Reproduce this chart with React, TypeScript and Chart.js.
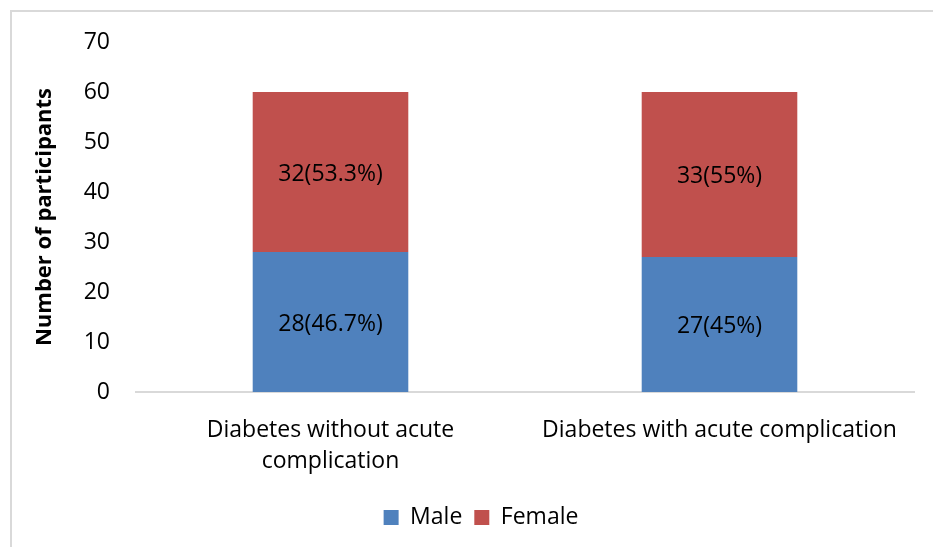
import React, { useEffect, useRef } from "react";
import { Chart, registerables } from "chart.js";

Chart.register(...registerables);

const categories: (string | string[])[] = [
  ["Diabetes without acute", "complication"],
  "Diabetes with acute complication",
];
const seriesNames = ["Male", "Female"];
const maleCounts = [28, 27];
const femaleCounts = [32, 33];
const maleLabels = ["28(46.7%)", "27(45%)"];
const femaleLabels = ["32(53.3%)", "33(55%)"];
const yMin = 0;
const yMax = 70;
const yStep = 10;
const yTitle = "Number of participants";

const FONT = "'Open Sans'";

export default function App() {
  const ref = useRef<HTMLCanvasElement | null>(null);

  useEffect(() => {
    document.body.style.margin = "0";
    const canvas = ref.current;
    if (!canvas) return;

    const frame = {
      id: "frame",
      beforeDraw(chart: any) {
        const ctx = chart.ctx;
        ctx.save();
        ctx.fillStyle = "#ffffff";
        ctx.fillRect(0, 0, chart.width, chart.height);
        ctx.strokeStyle = "#d9d9d9";
        ctx.lineWidth = 2;
        ctx.strokeRect(11, 11, chart.width + 20, chart.height + 20);
        ctx.restore();
      },
    };

    const valueLabels = {
      id: "valueLabels",
      afterDatasetsDraw(chart: any) {
        const ctx = chart.ctx;
        const texts = [maleLabels, femaleLabels];
        ctx.save();
        ctx.font = `23px ${FONT}`;
        ctx.fillStyle = "#000000";
        ctx.textAlign = "center";
        ctx.textBaseline = "middle";
        chart.data.datasets.forEach((ds: any, di: number) => {
          const meta = chart.getDatasetMeta(di);
          meta.data.forEach((el: any, i: number) => {
            const p = el.getProps(["x", "y", "base"], true);
            ctx.fillText(texts[di][i], p.x, (p.y + p.base) / 2 + 2);
          });
        });
        ctx.restore();
      },
    };

    const chart = new Chart(canvas, {
      type: "bar",
      data: {
        labels: categories,
        datasets: [
          {
            label: seriesNames[0],
            data: maleCounts,
            backgroundColor: "#4F81BD",
            borderColor: "#4F81BD",
            barPercentage: 0.4,
            categoryPercentage: 1,
          },
          {
            label: seriesNames[1],
            data: femaleCounts,
            backgroundColor: "#C0504D",
            borderColor: "#C0504D",
            barPercentage: 0.4,
            categoryPercentage: 1,
          },
        ],
      },
      options: {
        animation: false,
        responsive: false,
        devicePixelRatio: 1,
        layout: { padding: { top: 42, right: 19, bottom: 8, left: 48 } },
        plugins: {
          legend: {
            position: "bottom",
            labels: {
              boxWidth: 15,
              boxHeight: 15,
              padding: 12,
              color: "#000000",
              font: { family: FONT, size: 23 },
            },
          },
          tooltip: { enabled: false },
        },
        scales: {
          x: {
            stacked: true,
            grid: { display: false, drawTicks: false },
            border: { display: true, color: "#d9d9d9", width: 2 },
            ticks: {
              color: "#000000",
              padding: 23,
              maxRotation: 0,
              autoSkip: false,
              font: { family: FONT, size: 23, lineHeight: 1.35 },
            },
            afterFit(scale: any) {
              scale.height = 102;
            },
          },
          y: {
            stacked: true,
            min: yMin,
            max: yMax,
            grid: { display: false, drawTicks: false },
            border: { display: false },
            ticks: {
              stepSize: yStep,
              color: "#000000",
              padding: 26,
              font: { family: FONT, size: 23 },
            },
            title: {
              display: true,
              text: yTitle,
              color: "#000000",
              padding: { top: -16, bottom: 0 },
              font: { family: FONT, size: 22, weight: "bold" },
            },
            afterFit(scale: any) {
              scale.width = 88;
            },
          },
        },
      },
      plugins: [frame, valueLabels],
    } as any);

    return () => chart.destroy();
  }, []);

  return (
    <div style={{ position: "absolute", left: 0, top: 0, width: 933, height: 547 }}>
      <canvas ref={ref} width={933} height={547} />
    </div>
  );
}
